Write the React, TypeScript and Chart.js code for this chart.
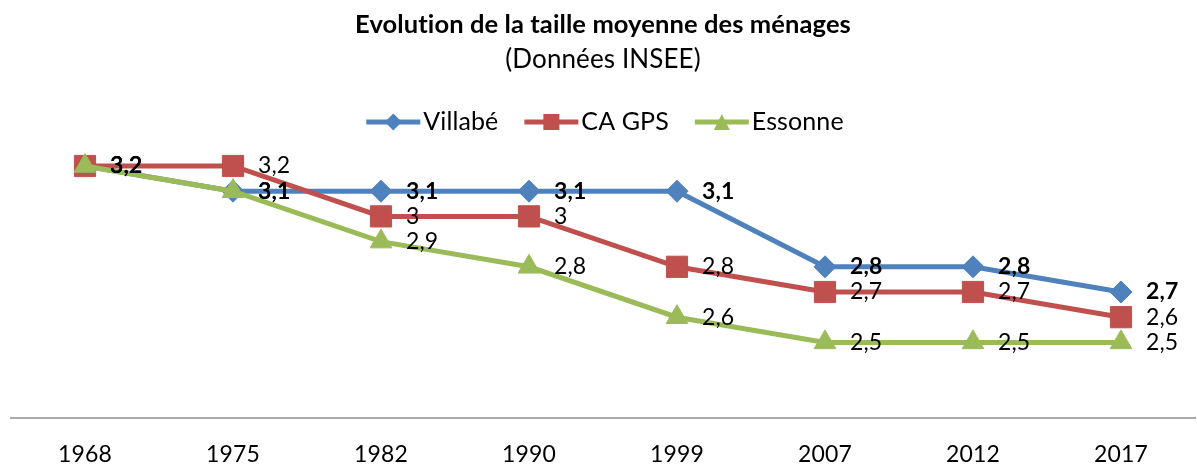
import React, { useEffect, useRef } from 'react';
import { Chart, registerables } from 'chart.js';
Chart.register(...registerables);

const categories = ['1968', '1975', '1982', '1990', '1999', '2007', '2012', '2017'];
const villabe = [3.2, 3.1, 3.1, 3.1, 3.1, 2.8, 2.8, 2.7];
const caGps = [3.2, 3.2, 3.0, 3.0, 2.8, 2.7, 2.7, 2.6];
const essonne = [3.2, 3.1, 2.9, 2.8, 2.6, 2.5, 2.5, 2.5];
const seriesNames = ['Villabé', 'CA GPS', 'Essonne'];
const seriesColors = ['#4F81BD', '#C0504D', '#9BBB59'];
const titleText = 'Evolution de la taille moyenne des ménages';
const subtitleText = '(Données INSEE)';

const FONT = 'Lato';

const fmt = (v: number) => String(v).replace('.', ',');

const spacingPlugin = {
  id: 'noLigatures',
  beforeDraw(chart: any) {
    try {
      (chart.ctx as any).letterSpacing = '0.1px';
    } catch (e) {
      /* ignore */
    }
  },
};

const labelPlugin = {
  id: 'valueLabels',
  afterDatasetsDraw(chart: any) {
    const ctx = chart.ctx;
    const drawOrder = [2, 1, 0];
    for (const di of drawOrder) {
      const meta = chart.getDatasetMeta(di);
      const ds = chart.data.datasets[di];
      ctx.save();
      ctx.font = `${di === 0 ? 'bold ' : ''}23px ${FONT}`;
      ctx.fillStyle = '#000';
      ctx.textBaseline = 'middle';
      ctx.textAlign = 'left';
      meta.data.forEach((pt: any, i: number) => {
        ctx.fillText(fmt(ds.data[i]), pt.x + 25, pt.y);
      });
      ctx.restore();
    }
  },
};

function drawMarker(ctx: CanvasRenderingContext2D, kind: number, x: number, y: number, color: string) {
  ctx.fillStyle = color;
  ctx.beginPath();
  if (kind === 0) {
    const r = 8.5;
    ctx.moveTo(x - r, y);
    ctx.lineTo(x, y - r);
    ctx.lineTo(x + r, y);
    ctx.lineTo(x, y + r);
  } else if (kind === 1) {
    const s = 8;
    ctx.rect(x - s, y - s, 2 * s, 2 * s);
  } else {
    const h = 8;
    ctx.moveTo(x, y - h);
    ctx.lineTo(x + h, y + h);
    ctx.lineTo(x - h, y + h);
  }
  ctx.closePath();
  ctx.fill();
}

const legendPlugin = {
  id: 'customLegend',
  afterDraw(chart: any) {
    const ctx = chart.ctx;
    const lineLen = 54;
    const gap = 3;
    const itemGap = 26;
    const cy = 122;
    ctx.save();
    ctx.font = `25px ${FONT}`;
    const widths = seriesNames.map((n) => ctx.measureText(n).width);
    const total = widths.reduce((a, w) => a + lineLen + gap + w, 0) + itemGap * (seriesNames.length - 1);
    let x = 605 - total / 2;
    seriesNames.forEach((name, i) => {
      ctx.strokeStyle = seriesColors[i];
      ctx.lineWidth = 5;
      ctx.beginPath();
      ctx.moveTo(x, cy);
      ctx.lineTo(x + lineLen, cy);
      ctx.stroke();
      drawMarker(ctx, i, x + lineLen / 2, cy, seriesColors[i]);
      ctx.fillStyle = '#000';
      ctx.textBaseline = 'middle';
      ctx.textAlign = 'left';
      ctx.fillText(name, x + lineLen + gap, cy);
      x += lineLen + gap + widths[i] + itemGap;
    });
    ctx.restore();
  },
};

export default function App() {
  const canvasRef = useRef<HTMLCanvasElement | null>(null);

  useEffect(() => {
    document.body.style.margin = '0';
    const canvas = canvasRef.current;
    if (!canvas) return;
    const mk = (label: string, data: number[], color: string, pointStyle: string, radius: number, order: number) => ({
      label,
      data,
      borderColor: color,
      backgroundColor: color,
      borderWidth: 5,
      pointStyle,
      pointRadius: radius,
      pointHoverRadius: radius,
      pointBackgroundColor: color,
      pointBorderColor: color,
      pointBorderWidth: 1,
      tension: 0,
      order,
    });
    const chart = new Chart(canvas, {
      type: 'line',
      data: {
        labels: categories,
        datasets: [
          mk(seriesNames[0], villabe, seriesColors[0], 'rectRot', 11, 2),
          mk(seriesNames[1], caGps, seriesColors[1], 'rect', 15, 1),
          mk(seriesNames[2], essonne, seriesColors[2], 'triangle', 12.5, 0),
        ],
      },
      options: {
        animation: false,
        responsive: true,
        maintainAspectRatio: false,
        layout: { autoPadding: false, padding: { left: 11, right: 2, top: 0, bottom: 0 } },
        plugins: {
          legend: { display: false },
          tooltip: { enabled: false },
          title: {
            display: true,
            text: titleText,
            color: '#000',
            font: { family: FONT, size: 25.5, weight: 'bold', lineHeight: 1.2 },
            padding: { top: 9.7, bottom: 4.1 },
          },
          subtitle: {
            display: true,
            text: subtitleText,
            color: '#000',
            font: { family: FONT, size: 26, weight: 'normal', lineHeight: 1.2 },
            padding: { top: 0, bottom: 65.2 },
          },
        },
        scales: {
          x: {
            offset: true,
            grid: { display: false, drawTicks: false },
            border: { display: true, color: '#ABABAB', width: 2 },
            ticks: {
              color: '#000',
              font: { family: FONT, size: 23 },
              padding: 23,
              maxRotation: 0,
              autoSkip: false,
            },
            afterFit: (scale: any) => {
              scale.height = 50;
            },
          },
          y: {
            display: false,
            min: 2.2,
            max: 3.3,
          },
        },
      },
      plugins: [spacingPlugin, labelPlugin, legendPlugin],
    } as any);
    return () => chart.destroy();
  }, []);

  return (
    <div style={{ position: 'relative', width: '1197px', height: '468px' }}>
      <canvas ref={canvasRef} />
    </div>
  );
}
